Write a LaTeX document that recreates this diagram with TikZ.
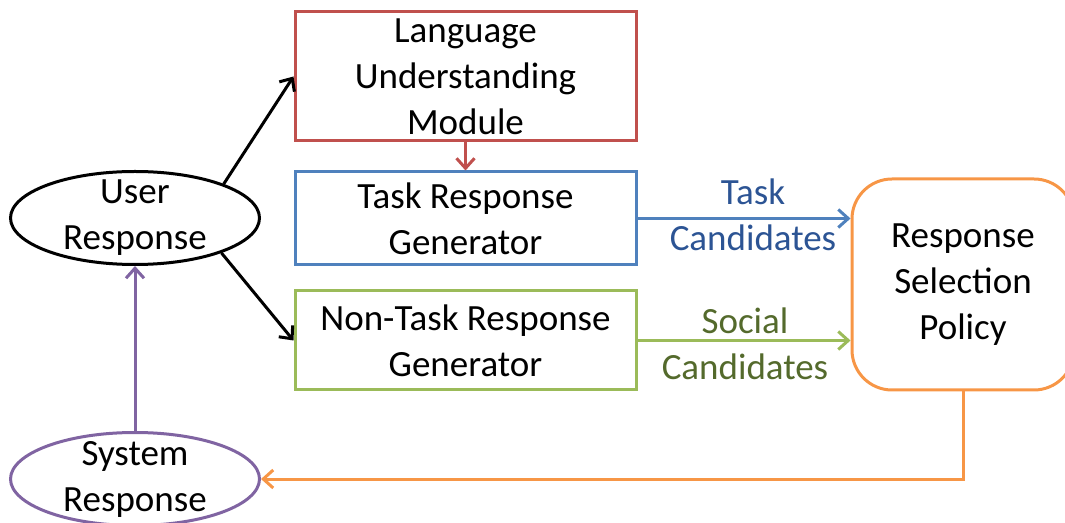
\documentclass[tikz,border=0pt]{standalone}
\usepackage{fontspec}
\setmainfont{Carlito}
\usetikzlibrary{arrows.meta, shapes.geometric}
\definecolor{lured}{RGB}{192,80,77}
\definecolor{taskblue}{RGB}{79,129,189}
\definecolor{taskbluetext}{RGB}{44,84,148}
\definecolor{socialgreen}{RGB}{155,187,89}
\definecolor{socialgreentext}{RGB}{84,106,44}
\definecolor{sysviolet}{RGB}{128,100,162}
\definecolor{policyorange}{RGB}{247,150,70}
\begin{document}
\begin{tikzpicture}[x={(0.5pt, 0pt)}, y={(0pt, -0.5pt)}, font=\fontsize{18.5}{23}\selectfont]
  \tikzstyle{module}=[draw, line width=1.5pt, minimum width=170.5pt, inner sep=0pt, align=center]
  \tikzstyle{speaker}=[draw, ellipse, line width=1.5pt, minimum width=124.5pt, minimum height=46.5pt, inner xsep=0pt, inner ysep=-8pt, align=center]
  \tikzstyle{flow}=[line width=1.5pt, -{Straight Barb[length=5pt, width=9pt]}]

\useasboundingbox (0, 0) rectangle (1065, 523);

\node[speaker] (user) at (135, 218) {User\\Response};

\node[speaker, draw=sysviolet] (system) at (135, 479) {System\\Response};
\draw[flow, sysviolet] (system) -- (user);

\node[module, draw=lured, minimum height=64.5pt] (lum) at (465.5, 76.5) {Language\\Understanding\\Module};
\draw[flow] (user.21) -- (lum.west);

\node[module, draw=taskblue, minimum height=46.5pt] (task) at (465.5, 218.5) {Task Response\\Generator};
\draw[flow, lured] (lum.south) -- (task.north);

\node[module, draw=socialgreen, minimum height=49.5pt] (nontask) at (465.5, 340.5) {Non-Task Response\\Generator};
\draw[flow] (user.-22) -- (nontask.west);

\node[draw=policyorange, line width=1.5pt, rounded corners=20pt, minimum width=111pt, minimum height=105.5pt, inner sep=0pt, align=center] (policy) at (963, 284.5) {Response\\Selection\\Policy};

\draw[flow, taskblue] (task.east) -- (task.east -| policy.west);
\node[taskbluetext, align=center] (tasklbl) at (753, 214.5) {Task\\Candidates};

\draw[flow, socialgreen] (nontask.east) -- (nontask.east -| policy.west);
\node[socialgreentext, align=center] (sociallbl) at (745, 344) {Social\\Candidates};

\draw[flow, policyorange] (policy.south) |- (system.east);
\end{tikzpicture}
\end{document}
